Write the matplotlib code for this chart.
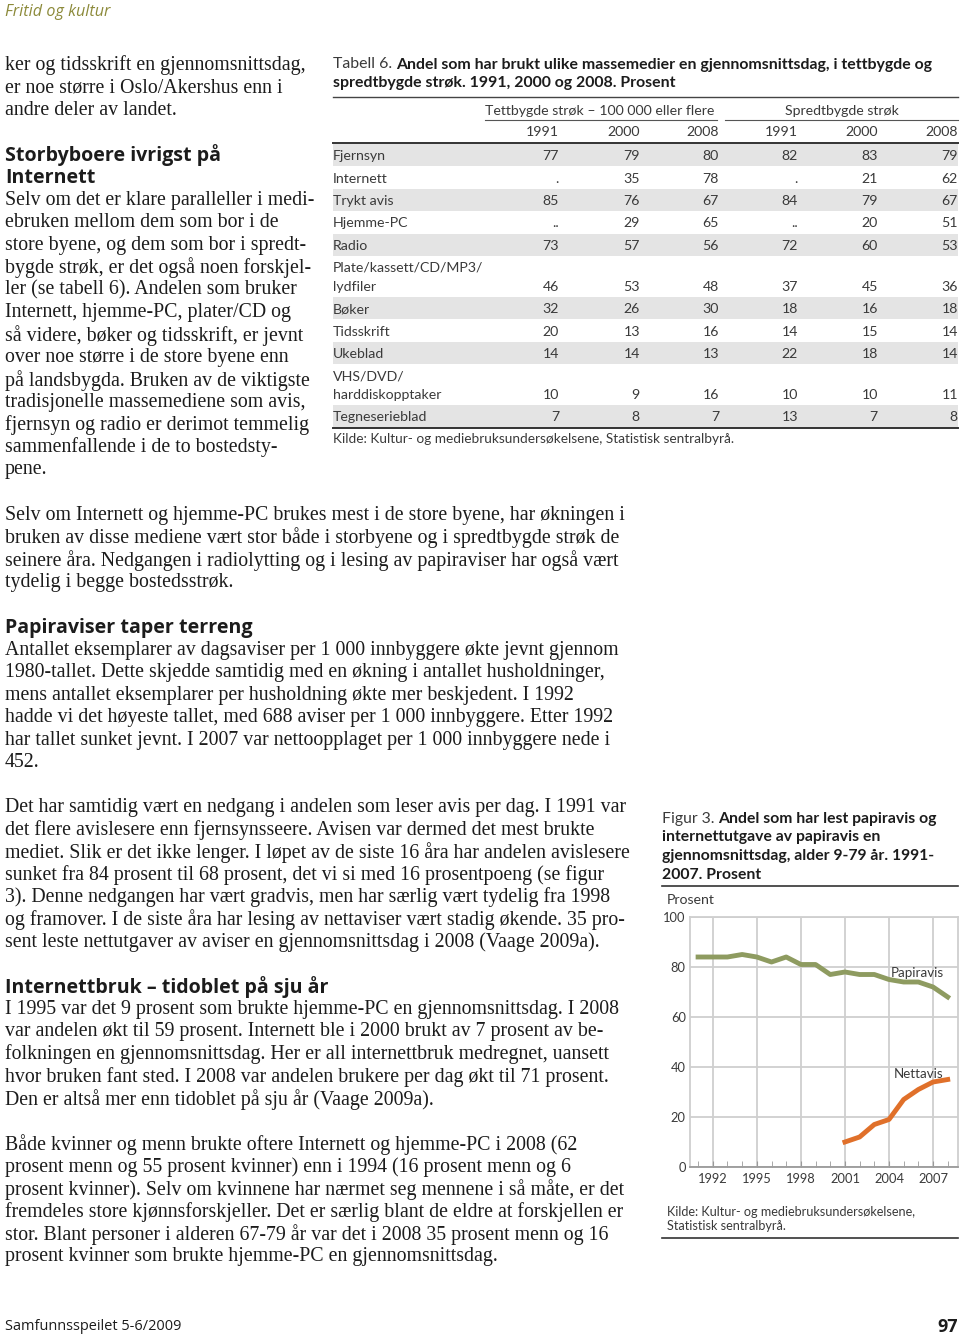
import matplotlib
matplotlib.use("Agg")
import matplotlib.pyplot as plt
from matplotlib.patches import Rectangle

# ---- data ----
aar = list(range(1991, 2009))
papiravis = [84, 84, 84, 85, 84, 82, 84, 81, 81, 77, 78, 77, 77, 75, 74, 74, 72, 68]
nett_aar = list(range(2001, 2009))
nettavis = [10, 12, 17, 19, 27, 31, 34, 35]

rader = ["Fjernsyn", "Internett", "Trykt avis", "Hjemme-PC", "Radio",
         "Plate/kassett/CD/MP3/\nlydfiler", "Bøker", "Tidsskrift", "Ukeblad",
         "VHS/DVD/\nharddiskopptaker", "Tegneserieblad"]
tett_1991 = ["77", ".", "85", "..", "73", "46", "32", "20", "14", "10", "7"]
tett_2000 = ["79", "35", "76", "29", "57", "53", "26", "13", "14", "9", "8"]
tett_2008 = ["80", "78", "67", "65", "56", "48", "30", "16", "13", "16", "7"]
spredt_1991 = ["82", ".", "84", "..", "72", "37", "18", "14", "22", "10", "13"]
spredt_2000 = ["83", "21", "79", "20", "60", "45", "16", "15", "18", "10", "7"]
spredt_2008 = ["79", "62", "67", "51", "53", "36", "18", "14", "14", "11", "8"]
kolonner = [tett_1991, tett_2000, tett_2008, spredt_1991, spredt_2000, spredt_2008]
kol_aar = ["1991", "2000", "2008", "1991", "2000", "2008"]

# ---- page ----
W, H = 960, 1334
fig = plt.figure(figsize=(9.6, 13.34), dpi=100)
bg = fig.add_axes([0, 0, 1, 1])
bg.set_xlim(0, W)
bg.set_ylim(H, 0)
bg.axis("off")
renderer = fig.canvas.get_renderer()

SERIF = "Liberation Serif"
SANS = "Open Sans"
LIGHT = "Lato"
INK = "#1c1c1c"
GREY = "#3a3a3a"


def width_of(s, size, **kw):
    t = bg.text(0, 0, s, fontsize=size, **kw)
    w = t.get_window_extent(renderer).width
    t.remove()
    return w


def fit(s, target, **kw):
    return 10 * target / width_of(s, 10, **kw)


body_fs = fit("Selv om Internett og hjemme-PC brukes mest i de store byene, har økningen i",
              617, family=SERIF)
head_fs = fit("Storbyboere ivrigst på", 217, family=SANS, weight="bold")
LS = 22.45


def block(x, y, lines, heading=False):
    for i, s in enumerate(lines):
        if heading:
            bg.text(x, y + i * LS, s, family=SANS, weight="bold", fontsize=head_fs,
                    color=INK, va="center_baseline")
        else:
            bg.text(x, y + i * LS, s, family=SERIF, fontsize=body_fs,
                    color=INK, va="center_baseline")


# header / footer
hdr_fs = fit("Fritid og kultur", 105, family=SANS, style="italic")
bg.text(5, 10, "Fritid og kultur", family=SANS, style="italic", fontsize=hdr_fs,
        color="#8c8a3a", va="center_baseline")
ft_fs = fit("Samfunnsspeilet 5-6/2009", 177, family=SANS)
bg.text(5, 1325, "Samfunnsspeilet 5-6/2009", family=SANS, fontsize=ft_fs,
        color=INK, va="center_baseline")
bg.text(958, 1325, "97", family=SANS, weight="bold", fontsize=13, color=INK,
        va="center_baseline", ha="right")

# left column
block(5, 63, ["ker og tidsskrift en gjennomsnittsdag,",
              "er noe større i Oslo/Akershus enn i",
              "andre deler av landet."])
block(5, 153, ["Storbyboere ivrigst på", "Internett"], heading=True)
block(5, 198, ["Selv om det er klare paralleller i medi-",
               "ebruken mellom dem som bor i de",
               "store byene, og dem som bor i spredt-",
               "bygde strøk, er det også noen forskjel-",
               "ler (se tabell 6). Andelen som bruker",
               "Internett, hjemme-PC, plater/CD og",
               "så videre, bøker og tidsskrift, er jevnt",
               "over noe større i de store byene enn",
               "på landsbygda. Bruken av de viktigste",
               "tradisjonelle massemediene som avis,",
               "fjernsyn og radio er derimot temmelig",
               "sammenfallende i de to bostedsty-",
               "pene."])

# wide text
block(5, 513, ["Selv om Internett og hjemme-PC brukes mest i de store byene, har økningen i",
               "bruken av disse mediene vært stor både i storbyene og i spredtbygde strøk de",
               "seinere åra. Nedgangen i radiolytting og i lesing av papiraviser har også vært",
               "tydelig i begge bostedsstrøk."])
block(5, 625, ["Papiraviser taper terreng"], heading=True)
block(5, 648, ["Antallet eksemplarer av dagsaviser per 1 000 innbyggere økte jevnt gjennom",
               "1980-tallet. Dette skjedde samtidig med en økning i antallet husholdninger,",
               "mens antallet eksemplarer per husholdning økte mer beskjedent. I 1992",
               "hadde vi det høyeste tallet, med 688 aviser per 1 000 innbyggere. Etter 1992",
               "har tallet sunket jevnt. I 2007 var nettoopplaget per 1 000 innbyggere nede i",
               "452."])
block(5, 805, ["Det har samtidig vært en nedgang i andelen som leser avis per dag. I 1991 var",
               "det flere avislesere enn fjernsynsseere. Avisen var dermed det mest brukte",
               "mediet. Slik er det ikke lenger. I løpet av de siste 16 åra har andelen avislesere",
               "sunket fra 84 prosent til 68 prosent, det vi si med 16 prosentpoeng (se figur",
               "3). Denne nedgangen har vært gradvis, men har særlig vært tydelig fra 1998",
               "og framover. I de siste åra har lesing av nettaviser vært stadig økende. 35 pro-",
               "sent leste nettutgaver av aviser en gjennomsnittsdag i 2008 (Vaage 2009a)."])
block(5, 985, ["Internettbruk – tidoblet på sju år"], heading=True)
block(5, 1007, ["I 1995 var det 9 prosent som brukte hjemme-PC en gjennomsnittsdag. I 2008",
                "var andelen økt til 59 prosent. Internett ble i 2000 brukt av 7 prosent av be-",
                "folkningen en gjennomsnittsdag. Her er all internettbruk medregnet, uansett",
                "hvor bruken fant sted. I 2008 var andelen brukere per dag økt til 71 prosent.",
                "Den er altså mer enn tidoblet på sju år (Vaage 2009a)."])
block(5, 1142, ["Både kvinner og menn brukte oftere Internett og hjemme-PC i 2008 (62",
                "prosent menn og 55 prosent kvinner) enn i 1994 (16 prosent menn og 6",
                "prosent kvinner). Selv om kvinnene har nærmet seg mennene i så måte, er det",
                "fremdeles store kjønnsforskjeller. Det er særlig blant de eldre at forskjellen er",
                "stor. Blant personer i alderen 67-79 år var det i 2008 35 prosent menn og 16",
                "prosent kvinner som brukte hjemme-PC en gjennomsnittsdag."])


def caption(x, y, label, first, total_w):
    # first line: light label + bold title, fitted to its measured width
    w_lab = width_of(label, 10, family=LIGHT)
    w_b = width_of(first, 10, family=LIGHT, weight="bold")
    fs = 10 * total_w / (w_lab + w_b)
    bg.text(x, y, label, family=LIGHT, fontsize=fs, color=GREY, va="center_baseline")
    off = width_of(label, fs, family=LIGHT)
    bg.text(x + off, y, first, family=LIGHT, weight="bold", fontsize=fs,
            color=INK, va="center_baseline")
    return fs


# ---- table ----
tfs = caption(333, 63, "Tabell 6. ",
              "Andel som har brukt ulike massemedier en gjennomsnittsdag, i tettbygde og", 600)
bg.text(333, 82, "spredtbygde strøk. 1991, 2000 og 2008. Prosent", family=LIGHT,
        weight="bold", fontsize=tfs, color=INK, va="center_baseline")
cell_fs = fit("Tettbygde strøk – 100 000 eller flere", 229, family=LIGHT)

bg.plot([333, 958], [97, 97], color="#444444", lw=1.0)
bg.text(600, 110, "Tettbygde strøk – 100 000 eller flere", family=LIGHT, fontsize=cell_fs,
        color=GREY, ha="center", va="center_baseline")
bg.text(842, 110, "Spredtbygde strøk", family=LIGHT, fontsize=cell_fs,
        color=GREY, ha="center", va="center_baseline")
bg.plot([485, 717], [120, 120], color="#555555", lw=0.8)
bg.plot([725, 958], [120, 120], color="#555555", lw=0.8)
col_x = [559, 640, 719, 798, 878, 958]
for cx, a in zip(col_x, kol_aar):
    bg.text(cx, 131, a, family=LIGHT, fontsize=cell_fs, color=GREY, ha="right",
            va="center_baseline")
bg.plot([333, 958], [143, 143], color="#333333", lw=1.4)

y = 144.0
for i, navn in enumerate(rader):
    dobbel = "\n" in navn
    h = 41 if dobbel else 22.4
    if i % 2 == 0:
        bg.add_patch(Rectangle((333, y), 625, h, color="#e4e4e4", lw=0))
    if dobbel:
        l1, l2 = navn.split("\n")
        bg.text(333, y + 11, l1, family=LIGHT, fontsize=cell_fs, color=GREY, va="center_baseline")
        bg.text(333, y + 30, l2, family=LIGHT, fontsize=cell_fs, color=GREY, va="center_baseline")
        vy = y + 30
    else:
        bg.text(333, y + 11.2, navn, family=LIGHT, fontsize=cell_fs, color=GREY,
                va="center_baseline")
        vy = y + 11.2
    for cx, kol in zip(col_x, kolonner):
        bg.text(cx, vy, kol[i], family=LIGHT, fontsize=cell_fs, color=GREY, ha="right",
                va="center_baseline")
    y += h
bg.plot([333, 958], [y, y], color="#333333", lw=1.4)
bg.text(333, 438, "Kilde: Kultur- og mediebruksundersøkelsene, Statistisk sentralbyrå.",
        family=LIGHT, fontsize=cell_fs * 0.97, color=GREY, va="center_baseline")

# ---- figure 3 ----
ffs = caption(662, 817, "Figur 3. ", "Andel som har lest papiravis og", 275)
for k, s in enumerate(["internettutgave av papiravis en",
                       "gjennomsnittsdag, alder 9-79 år. 1991-",
                       "2007. Prosent"]):
    bg.text(662, 836 + k * 18.7, s, family=LIGHT, weight="bold", fontsize=ffs, color=INK,
            va="center_baseline")
bg.plot([662, 958], [886, 886], color="#333333", lw=1.2)
bg.plot([662, 958], [1238, 1238], color="#333333", lw=1.2)
bg.text(667, 899, "Prosent", family=LIGHT, fontsize=cell_fs, color=GREY,
        va="center_baseline")
src_fs = fit("Kilde: Kultur- og mediebruksundersøkelsene,", 248, family=LIGHT)
bg.text(667, 1211, "Kilde: Kultur- og mediebruksundersøkelsene,", family=LIGHT,
        fontsize=src_fs, color=GREY, va="center_baseline")
bg.text(667, 1225, "Statistisk sentralbyrå.", family=LIGHT, fontsize=src_fs, color=GREY,
        va="center_baseline")

ax = fig.add_axes([690 / W, 1 - 1167 / H, 268 / W, 250 / H])
ax.plot(aar, papiravis, color="#8e9b60", lw=3.5, solid_joinstyle="round")
ax.plot(nett_aar, nettavis, color="#e0702a", lw=3.5, solid_joinstyle="round")
ax.set_xlim(1990.45, 2008.7)
ax.set_ylim(0, 100)
ax.set_xticks(range(1992, 2008, 3))
ax.set_xticks(aar, minor=True)
ax.set_yticks(range(0, 101, 20))
ax.grid(True, color="#cfcfcf", lw=1.3)
ax.set_axisbelow(True)
for side in ["top", "right", "left"]:
    ax.spines[side].set_color("#cfcfcf")
    ax.spines[side].set_linewidth(1.3)
ax.spines["bottom"].set_color("#9a9a9a")
ax.spines["bottom"].set_linewidth(1.3)
tick_fs = fit("1992", 30, family=LIGHT)
ax.tick_params(axis="x", which="both", direction="in", length=4, color="#9a9a9a",
               labelsize=tick_fs, labelcolor=GREY, pad=4)
ax.tick_params(axis="y", length=0, labelsize=tick_fs, labelcolor=GREY, pad=3)
for lab in ax.get_xticklabels() + ax.get_yticklabels():
    lab.set_family(LIGHT)
ax.text(2004.1, 77.6, "Papiravis", family=LIGHT, fontsize=cell_fs * 0.95, color=GREY,
        va="center")
ax.text(2004.3, 37.2, "Nettavis", family=LIGHT, fontsize=cell_fs * 0.95, color=GREY,
        va="center")

fig.savefig("out.png", dpi=100)
